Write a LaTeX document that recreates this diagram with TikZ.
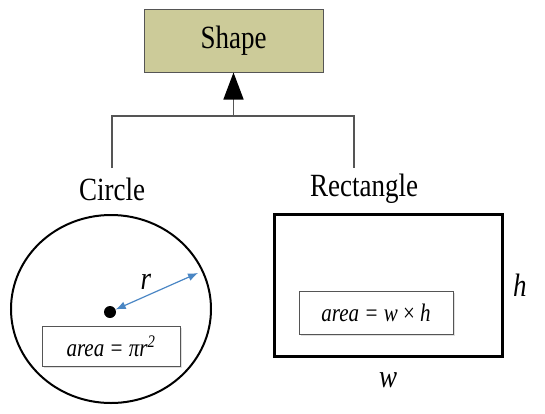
\documentclass[tikz,border=0pt]{standalone}
\usepackage{fontspec}
\setmainfont{Liberation Serif}
\usetikzlibrary{arrows.meta,positioning,shadows}

\definecolor{shapefill}{RGB}{204,203,153}
\definecolor{radblue}{RGB}{74,134,196}
\definecolor{treegray}{RGB}{85,85,85}

\newcommand{\tallr}[1]{\scalebox{1}[1.2]{#1}}

\tikzset{
  classbox/.style={draw=treegray, line width=1pt, fill=shapefill, minimum width=179pt, minimum height=63pt, font=\fontsize{27}{30}\selectfont},
  title/.style={font=\fontsize{27}{30}\selectfont},
  formula/.style={draw=treegray, line width=1pt, fill=white, font=\fontsize{21}{24}\selectfont\itshape,
    drop shadow={shadow xshift=2pt, shadow yshift=-2pt, opacity=0.25}},
  dim/.style={font=\fontsize{27}{30}\selectfont\itshape}
}

\begin{document}
\begin{tikzpicture}[x=1pt, y=-1pt]
  \useasboundingbox (0,0) rectangle (545,413);
  % superclass
  \node[classbox] (shape) at (233.5,40.5) {\tallr{Shape}};
  % subclasses
  \node[title] (circ_lbl) at (112,189) {\tallr{Circle}};
  \node[title] (rect_lbl) at (364,189) {\tallr{Rectangle}};
  \coordinate (c_top) at (112,168);
  \coordinate (r_top) at (354,168);
  \coordinate (join) at (233.5,116);
  \draw[treegray, line width=1.5pt] (c_top) |- (join) -| (r_top);
  \draw[treegray, line width=1.5pt, -{Triangle[width=20pt,length=27pt,color=black]}] (join) -- (shape);
  % circle
  \draw[line width=2pt] (111,309) ellipse [x radius=100, y radius=94];
  \node[circle, fill=black, inner sep=0pt, minimum size=12pt] (ctr) at (110,312) {};
  \coordinate (rim) at (198,273);
  \draw[radblue, line width=1.2pt, {Latex[length=10pt,width=8pt]}-{Latex[length=10pt,width=8pt]}] (ctr) -- (rim);
  \node[dim] (r_lbl) at (146,282) {\tallr{r}};
  \node[formula, minimum width=138pt, minimum height=40pt] (c_area) at (111,346) {\tallr{area = πr\textsuperscript{2}}};
  % rectangle
  \node[draw, line width=3pt, minimum width=228pt, minimum height=142pt] (rect) at (388,285) {};
  \node[formula, minimum width=154pt, minimum height=43pt] (r_area) at (376,312.5) {\tallr{area = w {\upshape ×} h}};
  \node[dim] (h_lbl) [right=6pt of rect] {\tallr{h}};
  \node[dim] (w_lbl) [below=12pt of rect] {\tallr{w}};
\end{tikzpicture}
\end{document}
